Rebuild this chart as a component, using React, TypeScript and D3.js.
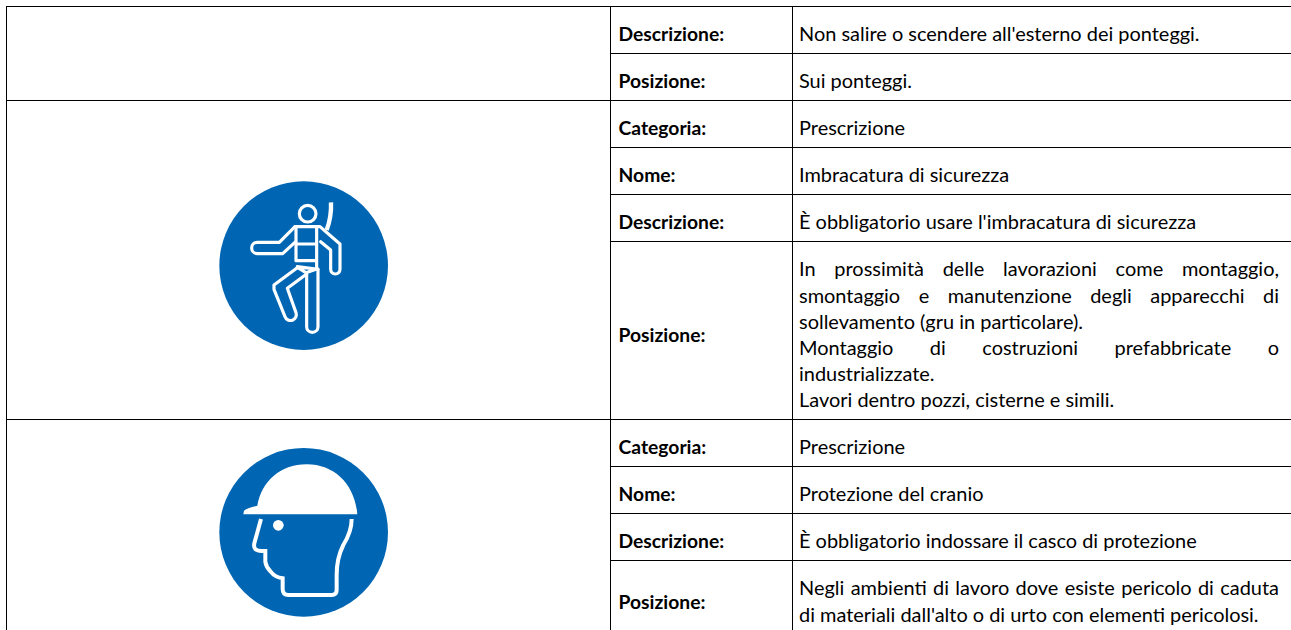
import React, { useEffect, useRef } from "react";
import * as d3 from "d3";

const WIDTH = 1291;
const HEIGHT = 630;
const TABLE_TOP = 6;
const COL_LEFT = 6;
const COL_LABEL = 610.5;
const COL_VALUE = 792.5;
const TABLE_RIGHT = 1291;
const TEXT_RIGHT = 1279;
const ROW_H = 47;
const LINE_H = 26.2;
const BASELINE = 35.4;
const FONT = "Lato, 'Open Sans', sans-serif";
const LABEL_SIZE = 19.3;
const VALUE_SIZE = 19.95;
const BLUE = "#0066b3";

const rowLabels = [
  "Descrizione:",
  "Posizione:",
  "Categoria:",
  "Nome:",
  "Descrizione:",
  "Posizione:",
  "Categoria:",
  "Nome:",
  "Descrizione:",
  "Posizione:",
];

const rowValues = [
  ["Non salire o scendere all'esterno dei ponteggi."],
  ["Sui ponteggi."],
  ["Prescrizione"],
  ["Imbracatura di sicurezza"],
  ["È obbligatorio usare l'imbracatura di sicurezza"],
  [
    "In prossimità delle lavorazioni come montaggio,",
    "smontaggio e manutenzione degli apparecchi di",
    "sollevamento (gru in particolare).",
    "Montaggio di costruzioni prefabbricate o",
    "industrializzate.",
    "Lavori dentro pozzi, cisterne e simili.",
  ],
  ["Prescrizione"],
  ["Protezione del cranio"],
  ["È obbligatorio indossare il casco di protezione"],
  [
    "Negli ambienti di lavoro dove esiste pericolo di caduta",
    "di materiali dall'alto o di urto con elementi pericolosi.",
  ],
];

// lines stretched to the full cell width
const justifiedLines = [
  "In prossimità delle lavorazioni come montaggio,",
  "smontaggio e manutenzione degli apparecchi di",
  "Montaggio di costruzioni prefabbricate o",
  "Negli ambienti di lavoro dove esiste pericolo di caduta",
];

// index of the first row of each merged sign cell
const groupStarts = [0, 2, 6];

const rowHeights = rowValues.map((lines) => ROW_H + (lines.length - 1) * LINE_H);
const rowTops = [TABLE_TOP, ...Array.from(d3.cumsum(rowHeights)).map((h) => TABLE_TOP + h)];

const Harness = () => (
  <g transform="translate(200,170) scale(0.3333)">
    <circle cx={311} cy={287} r={253} fill={BLUE} />
    <g fill="none" stroke="white" strokeWidth={9.5} strokeLinejoin="round" strokeLinecap="round">
      <circle cx={323} cy={131} r={25} />
      <path d="M285 170L238 217L172 217A17 17 0 0 0 172 251L248 251L287 215" />
      <path d="M285 170L360 170L420 222L420 298A14 14 0 0 1 392 298L392 240L362 215" />
      <path d="M288 170L288 272M288 222L350 222M350 170L350 298M288 272L350 272" />
      <path d="M292 292L318 308L352 296M292 290L354 298" />
      <path d="M354 298L354 470A17 17 0 0 1 320 470L320 312" />
      <path d="M320 312L262 355L288 428A17 17 0 0 1 255 440L222 358L222 345L290 295" />
      <path d="M393 97Q395 140 380 180" strokeWidth={13} strokeLinecap="butt" />
    </g>
  </g>
);

const Helmet = () => (
  <g transform="translate(200,435) scale(0.3333)">
    <circle cx={311} cy={292} r={253} fill={BLUE} />
    <path
      d="M130 238L132 227Q140 220 172 212C185 140 240 88 320 88C405 88 465 150 472 238Z"
      fill="white"
    />
    <circle cx={235} cy={271} r={16} fill="white" />
    <path
      d="M183 252L163 325Q158 348 185 348L196 348L196 380Q198 395 212 410Q225 427 248 430L248 462Q248 480 265 480L395 480Q410 480 410 465L410 420Q410 370 430 330Q455 290 455 252"
      fill="none"
      stroke="white"
      strokeWidth={12}
    />
  </g>
);

export default function App() {
  const textRef = useRef<SVGGElement>(null);

  useEffect(() => {
    const g = d3.select(textRef.current);
    g.selectAll("*").remove();

    rowLabels.forEach((label, i) => {
      const lines = rowValues[i];
      g.append("text")
        .attr("x", COL_LABEL + 8)
        .attr("y", rowTops[i] + BASELINE + (lines.length - 1) * (LINE_H / 2))
        .attr("font-size", LABEL_SIZE)
        .attr("font-weight", 700)
        .text(label);

      lines.forEach((line, j) => {
        const t = g
          .append("text")
          .attr("x", COL_VALUE + 6.5)
          .attr("y", rowTops[i] + BASELINE + j * LINE_H)
          .attr("font-size", VALUE_SIZE)
          .text(line);
        if (justifiedLines.includes(line)) {
          const natural = (t.node() as SVGTextElement).getComputedTextLength();
          const gaps = line.split(" ").length - 1;
          t.style("word-spacing", `${(TEXT_RIGHT - (COL_VALUE + 6.5) - natural) / gaps}px`);
        }
      });
    });
  }, []);

  return (
    <svg
      width={WIDTH}
      height={HEIGHT}
      style={{ position: "absolute", top: 0, left: 0, background: "white" }}
    >
      <Harness />
      <Helmet />
      <g stroke="black" strokeWidth={1}>
        {rowTops.map((y, i) => (
          <line
            key={i}
            x1={groupStarts.includes(i) || i === rowValues.length ? COL_LEFT : COL_LABEL}
            x2={TABLE_RIGHT}
            y1={Math.round(y) + 0.5}
            y2={Math.round(y) + 0.5}
          />
        ))}
        {[COL_LEFT, COL_LABEL, COL_VALUE].map((x) => (
          <line key={x} x1={Math.floor(x) + 0.5} x2={Math.floor(x) + 0.5} y1={TABLE_TOP} y2={HEIGHT} />
        ))}
      </g>
      <g ref={textRef} fontFamily={FONT} fill="black" />
    </svg>
  );
}
